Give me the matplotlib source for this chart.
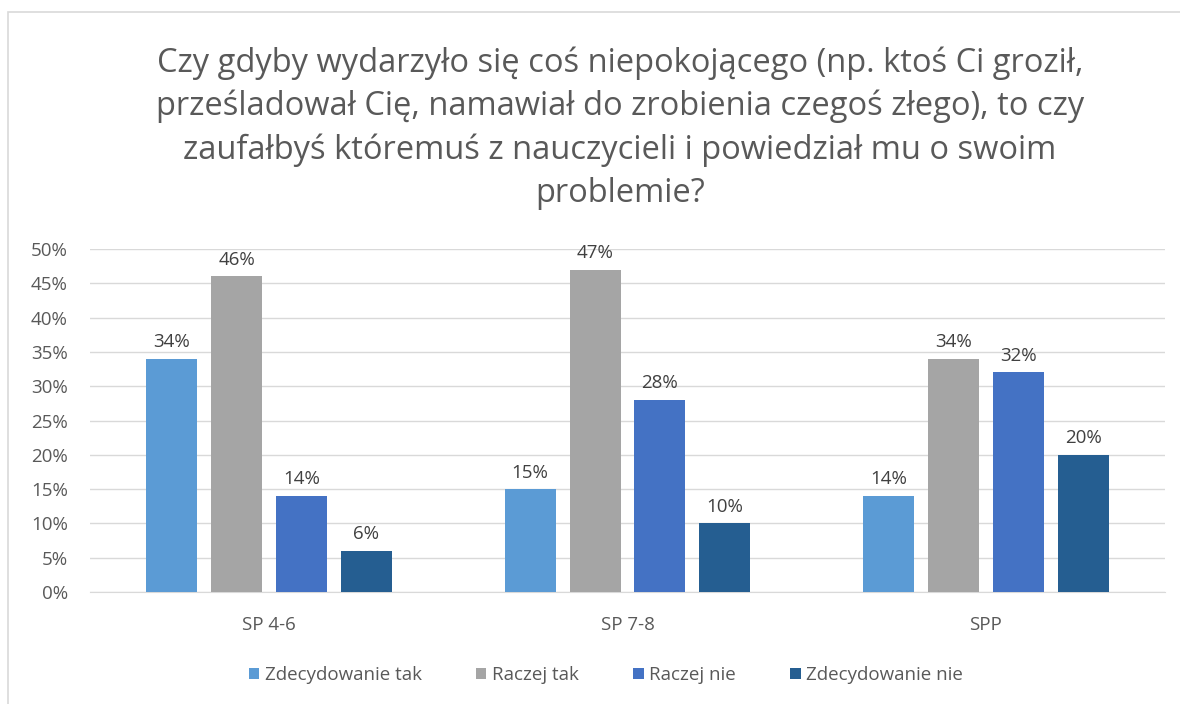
import numpy as np
import matplotlib.pyplot as plt
from matplotlib.patches import Rectangle

plt.rcParams['font.family'] = ['Open Sans', 'DejaVu Sans']

groups = ['SP 4-6', 'SP 7-8', 'SPP']
series = ['Zdecydowanie tak', 'Raczej tak', 'Raczej nie', 'Zdecydowanie nie']
zdecydowanie_tak = [34, 15, 14]
raczej_tak = [46, 47, 34]
raczej_nie = [14, 28, 32]
zdecydowanie_nie = [6, 10, 20]
values = [zdecydowanie_tak, raczej_tak, raczej_nie, zdecydowanie_nie]
colors = ['#5B9BD5', '#A5A5A5', '#4472C4', '#255E91']
yticks = [0, 5, 10, 15, 20, 25, 30, 35, 40, 45, 50]

title = ('Czy gdyby wydarzyło się coś niepokojącego (np. ktoś Ci groził,\n'
         'prześladował Cię, namawiał do zrobienia czegoś złego), to czy\n'
         'zaufałbyś któremuś z nauczycieli i powiedział mu o swoim\n'
         'problemie?')

txt = '#595959'
fs = 13.5
fig = plt.figure(figsize=(11.8, 7.04), dpi=100)
fig.patches.append(Rectangle((8 / 1180, -0.01), 1.02, 1 - 12 / 704 + 0.01,
                             transform=fig.transFigure, fill=False,
                             edgecolor='#D9D9D9', linewidth=1.2))
ax = fig.add_axes([90 / 1180, 1 - 592 / 704, 1075 / 1180, 343 / 704])

x = np.arange(len(groups))
w = 0.142
step = 0.181
for i, (vals, c, name) in enumerate(zip(values, colors, series)):
    pos = x + (i - 1.5) * step
    bars = ax.bar(pos, vals, width=w, color=c, label=name, zorder=3)
    for b, v in zip(bars, vals):
        ax.text(b.get_x() + b.get_width() / 2, v + 1.1, f'{v}%', ha='center',
                va='bottom', fontsize=fs, color='#404040')

ax.set_xlim(-0.5, 2.5)
ax.set_ylim(0, 50)
ax.set_yticks(yticks)
ax.set_yticklabels([f'{t}%' for t in yticks], fontsize=fs, color=txt)
ax.set_xticks(x)
ax.set_xticklabels(groups, fontsize=fs, color=txt)
ax.tick_params(axis='x', length=0, pad=17)
ax.tick_params(axis='y', length=0, pad=16)
ax.grid(axis='y', color='#D9D9D9', linewidth=1, zorder=0)
for s in ['top', 'right', 'left']:
    ax.spines[s].set_visible(False)
ax.spines['bottom'].set_color('#D9D9D9')

fig.text(620 / 1180, 1 - 128 / 704, title, ha='center', va='center',
         fontsize=23.5, color=txt, linespacing=1.4)

fig.legend(loc='center', bbox_to_anchor=(606 / 1180, 1 - 675 / 704), ncol=4,
           frameon=False, fontsize=fs, labelcolor=txt, handlelength=0.55,
           handleheight=0.55, handletextpad=0.3, columnspacing=2.9)

fig.savefig('out.png', dpi=100, facecolor='white')
